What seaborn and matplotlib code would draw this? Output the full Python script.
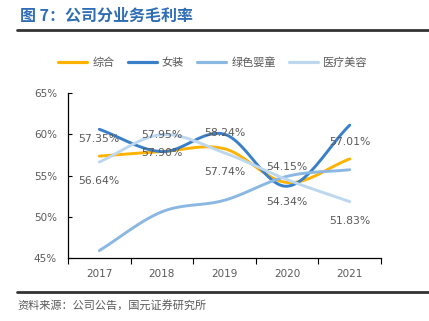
import numpy as np
import pandas as pd
import matplotlib
matplotlib.use("Agg")
import matplotlib.pyplot as plt
import seaborn as sns

years = ["2017", "2018", "2019", "2020", "2021"]
series_names = ["综合", "女装", "绿色婴童", "医疗美容"]
zonghe = [57.35, 57.90, 58.24, 54.15, 57.01]
nvzhuang = [60.6, 57.9, 60.0, 53.7, 61.1]
yingtong = [45.9, 50.6, 52.0, 54.9, 55.7]
yiliao = [56.64, 59.95, 57.74, 54.5, 51.83]
zonghe_labels = ["57.35%", "57.90%", "58.24%", "54.15%", "57.01%"]
yiliao_labels = ["56.64%", "57.95%", "57.74%", "54.34%", "51.83%"]
yticks = [45, 50, 55, 60, 65]
colors = ["#FFB300", "#3A80C9", "#8BB8E2", "#BDD7EE"]

sns.set_theme(style="white")
plt.rcParams['font.family'] = ['Noto Sans CJK SC', 'DejaVu Sans']

fig = plt.figure(figsize=(4.29, 3.21), dpi=100)
ax = fig.add_axes([68/429, 1-258/321, (381-68)/429, (258-93)/321])


def smooth(xs, ys, n=30):
    # Catmull-Rom smoothing for display only
    xs = np.asarray(xs, float); ys = np.asarray(ys, float)
    px = np.concatenate([[2*xs[0]-xs[1]], xs, [2*xs[-1]-xs[-2]]])
    py = np.concatenate([[2*ys[0]-ys[1]], ys, [2*ys[-1]-ys[-2]]])
    outx, outy = [], []
    for i in range(1, len(px)-2):
        t = np.linspace(0, 1, n, endpoint=(i == len(px)-3))
        for arr, out in ((px, outx), (py, outy)):
            p0, p1, p2, p3 = arr[i-1], arr[i], arr[i+1], arr[i+2]
            out.extend(0.5*((2*p1) + (-p0+p2)*t + (2*p0-5*p1+4*p2-p3)*t**2
                            + (-p0+3*p1-3*p2+p3)*t**3))
    return np.array(outx), np.array(outy)


xpos = np.arange(len(years))
frames = []
for name, vals in zip(series_names, [zonghe, nvzhuang, yingtong, yiliao]):
    sx, sy = smooth(xpos, vals)
    frames.append(pd.DataFrame({"x": sx, "y": sy, "s": name}))
df = pd.concat(frames, ignore_index=True)

sns.lineplot(data=df, x="x", y="y", hue="s", hue_order=series_names,
             palette=colors, linewidth=2.1, sort=False, estimator=None,
             ax=ax, legend=False)

# labels
zoff = [12, -1, 11, 11, 12]
yoff = [-14, 0, -14, -16, -14]
lab_kw = dict(textcoords="offset points", ha="center", va="center",
              fontsize=7.8, color="#595959", family="DejaVu Sans")
for i in range(len(years)):
    ax.annotate(zonghe_labels[i], (xpos[i], zonghe[i]), xytext=(0, zoff[i]), **lab_kw)
    ax.annotate(yiliao_labels[i], (xpos[i], yiliao[i]), xytext=(0, yoff[i]), **lab_kw)

ax.set_xlim(-0.5, 4.5)
ax.set_ylim(45, 65)
ax.set_yticks(yticks)
ax.set_yticklabels([f"{v}%" for v in yticks], fontsize=7.5, color="#595959",
                   family="DejaVu Sans")
ax.set_xticks(xpos)
ax.set_xticklabels(years, fontsize=7.5, color="#595959", family="DejaVu Sans")
ax.set_xticks(np.arange(-0.5, 5, 1), minor=True)
ax.tick_params(axis="x", which="major", length=0, pad=8)
ax.tick_params(axis="x", which="minor", length=4, width=0.8, color="black",
               direction="out", bottom=True)
ax.tick_params(axis="y", which="major", length=3, width=0.8, color="black",
               direction="in", left=True, pad=8)
ax.set_xlabel(""); ax.set_ylabel("")
for s in ["top", "right"]:
    ax.spines[s].set_visible(False)
for s in ["left", "bottom"]:
    ax.spines[s].set_color("black")
    ax.spines[s].set_linewidth(0.9)

# legend
handles = [plt.Line2D([], [], color=c, lw=2.3) for c in colors]
fig.legend(handles, series_names, loc="center", bbox_to_anchor=(213/429, 1-63/321),
           ncol=4, frameon=False, fontsize=8, handlelength=2.6,
           columnspacing=1.2, handletextpad=0.45, labelcolor="#595959")

# title and frame lines
fig.text(20/429, 1-16/321, "图 7：公司分业务毛利率", fontsize=11.5,
         fontweight="bold", color="#2F6DB5", va="center", ha="left")
fig.add_artist(plt.Line2D([17/429, 1], [1-30/321, 1-30/321], color="#333333",
                          lw=2, transform=fig.transFigure))
fig.add_artist(plt.Line2D([17/429, 1], [1-292/321, 1-292/321], color="#333333",
                          lw=2, transform=fig.transFigure))
fig.text(17/429, 1-305/321, "资料来源：公司公告，国元证券研究所", fontsize=8,
         color="#595959", va="center", ha="left")

fig.savefig("out.png", dpi=100)
